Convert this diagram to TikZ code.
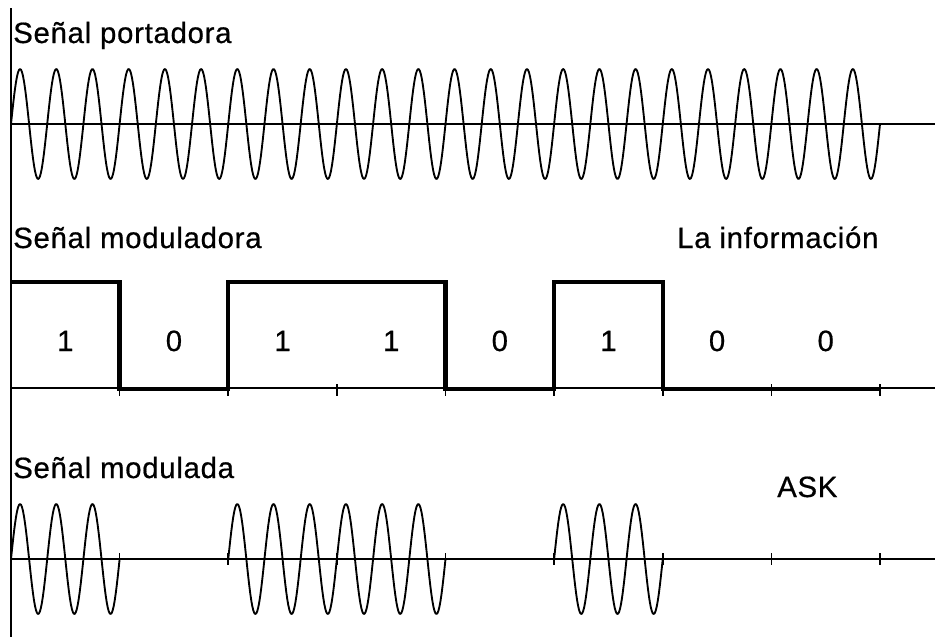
\documentclass[tikz,border=0pt]{standalone}
\usepackage{fontspec}
\newfontfamily\labfont{Liberation Sans}[LetterSpace=2.5,FakeBold=0.6]
\begin{document}
\begin{tikzpicture}[x=0.75pt,y=-0.75pt,
  lab/.style={font=\labfont\fontsize{22}{26}\selectfont, inner sep=0pt, anchor=base west},
  digit/.style={font=\labfont\fontsize{22}{26}\selectfont, inner sep=0pt, anchor=base},
  axisline/.style={line width=1.2pt, black},
  sig/.style={line width=1.4pt, black, line join=round},
  square/.style={line width=3.3pt, black, line join=miter},
  tickmark/.style={line width=1.2pt, black}]
\useasboundingbox (0,0) rectangle (935,637);
\fill[white] (0,0) rectangle (935,637);
% vertical axis
\draw[line width=1.6pt] (11,8) -- (11,637);
% carrier
\node[lab] (tport) at (13,43) {Señal portadora};
\draw[axisline] (11,124) -- (935,124);
\draw[sig] plot[domain=11:880, samples=870] (\x, {124-55*sin(9.942474*(\x-11))});
% modulating signal
\node[lab] (tmodr) at (13,248) {Señal moduladora};
\node[lab] (tinfo) at (677,248) {La información};
\draw[axisline] (11,388) -- (935,388);
\foreach \k in {1,...,8}{
  \draw[tickmark] ({11+\k*108.625},384) -- ({11+\k*108.625},396);
}
\draw[square] (11,282) -- (119.625,282) -- (119.625,389) -- (228.25,389) -- (228.25,282)
  -- (445.5,282) -- (445.5,389) -- (554.125,389) -- (554.125,282) -- (662.75,282)
  -- (662.75,389) -- (880,389);
\foreach \b [count=\i from 0] in {1,0,1,1,0,1,0,0}{
  \node[digit] (d\i) at ({11+(\i+0.5)*108.625},351) {\b};
}
% modulated signal
\node[lab] (tmodd) at (13,478) {Señal modulada};
\node[lab] (task) at (777,497) {ASK};
\draw[axisline] (11,559) -- (935,559);
\foreach \k in {1,...,8}{
  \draw[tickmark] ({11+\k*108.625},553) -- ({11+\k*108.625},565);
}
\draw[sig] plot[domain=11:119.625, samples=110] (\x, {559-55*sin(9.942474*(\x-11))});
\draw[sig] plot[domain=228.25:445.5, samples=218] (\x, {559-55*sin(9.942474*(\x-228.25))});
\draw[sig] plot[domain=554.125:662.75, samples=110] (\x, {559-55*sin(9.942474*(\x-554.125))});
\end{tikzpicture}
\end{document}
